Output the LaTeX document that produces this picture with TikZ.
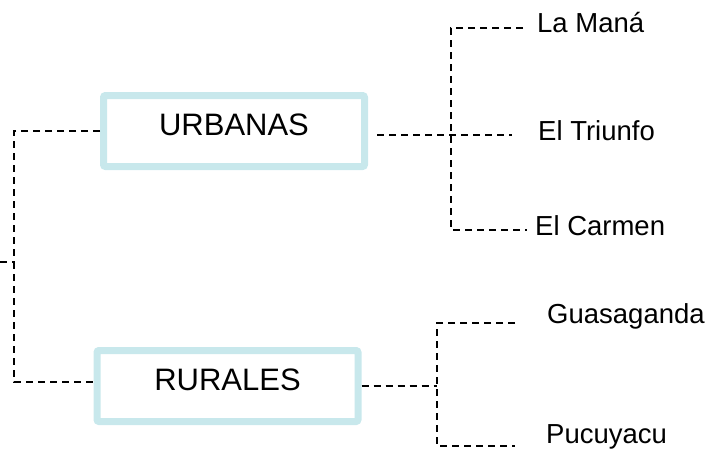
\documentclass[tikz,border=0pt]{standalone}
\usepackage{fontspec}
\setmainfont{Liberation Sans}
\definecolor{boxblue}{RGB}{200,232,236}
\begin{document}
\begin{tikzpicture}[x=1pt,y=1pt,
  catbox/.style={draw=boxblue,line width=7pt,rounded corners=2pt,fill=white,
    minimum width=261pt,minimum height=71pt,inner sep=0pt,
    text height=24pt,text depth=16pt,font=\fontsize{31}{36}\selectfont},
  place/.style={anchor=base west,inner sep=0pt,font=\fontsize{27.5}{32}\selectfont},
  dline/.style={draw=black,line width=2.1pt,dash pattern=on 7pt off 5pt}]
\useasboundingbox (0,0) rectangle (710,-448);
% coordinates
\coordinate (lstub) at (0,-262);
\coordinate (lx) at (14,-262);
\coordinate (uh) at (451,-135);
\coordinate (ute) at (512,-135);
\coordinate (ut) at (451,-28);
\coordinate (me) at (523,-28);
\coordinate (ub) at (451,-230);
\coordinate (ce) at (527,-230);
\coordinate (rh) at (437,-386);
\coordinate (rt) at (437,-323);
\coordinate (ge) at (515,-323);
\coordinate (rb) at (437,-446);
\coordinate (pe) at (515,-446);
% boxes
\node[catbox] (u) at (234,-131) {URBANAS};
\node[catbox] (r) at (227.5,-386) {RURALES};
% connectors
\draw[dline] (lstub) -- (lx);
\draw[dline] (u.west) -| (lx);
\draw[dline] (lx) |- ([yshift=4pt]r.west);
\draw[dline,shorten <=9pt] (u.east |- uh) -- (uh) -- (ute);
\draw[dline] (me) -- (ut) -- (ub) -- (ce);
\draw[dline] (r.east |- rh) -- (rh);
\draw[dline] (ge) -- (rt) -- (rb) -- (pe);
% labels
\node[place] (lm) at (537,-32) {La Maná};
\node[place] (et) at (538,-140) {El Triunfo};
\node[place] (ec) at (535,-235) {El Carmen};
\node[place] (gu) at (547,-323) {Guasaganda};
\node[place] (pu) at (546,-443) {Pucuyacu};
\end{tikzpicture}
\end{document}
